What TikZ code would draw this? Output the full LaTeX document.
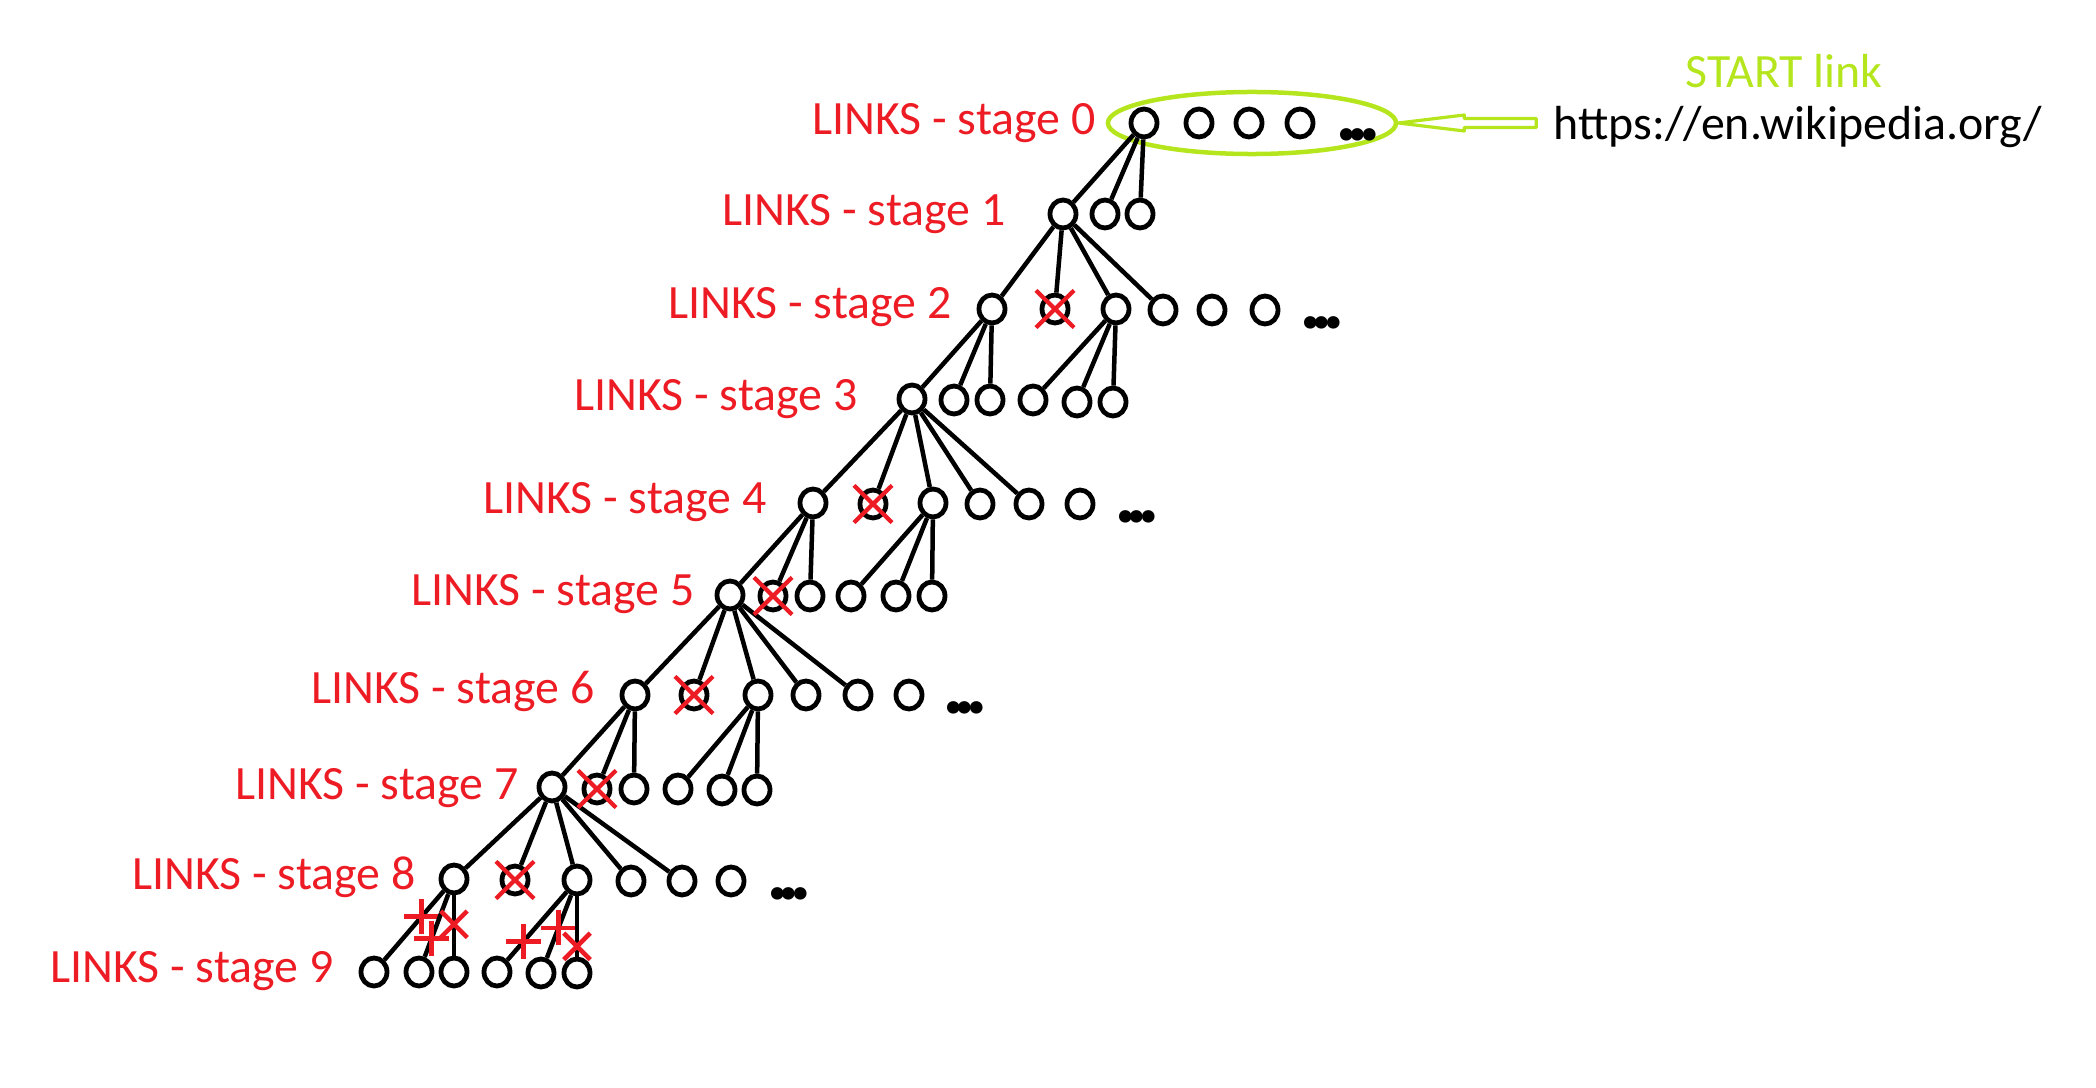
\documentclass[tikz,border=0pt]{standalone}
\usepackage{fontspec}
\setmainfont{Carlito}
\usetikzlibrary{shapes.geometric,shapes.misc}
\definecolor{linkred}{HTML}{ED1C24}
\definecolor{startgreen}{HTML}{B5E61D}

\begin{document}
\begin{tikzpicture}[x=0.01cm,y=-0.01cm,font=\fontsize{13.6}{16}\selectfont,
  pagenode/.style={draw,ellipse,line width=0.48mm,minimum width=2.6mm,minimum height=2.8mm,inner sep=0pt},
  deadx/.style={draw=linkred,cross out,line width=0.42mm,minimum width=3.4mm,minimum height=3.3mm,inner sep=0pt},
  plusx/.style={draw=linkred,cross out,rotate=45,line width=0.45mm,minimum size=2mm,inner sep=0pt},
  crossx/.style={draw=linkred,cross out,line width=0.45mm,minimum size=2.2mm,inner sep=0pt},
  stagelabel/.style={anchor=base east,text=linkred,inner sep=0pt},
  moredots/.style={anchor=base,inner sep=0pt,font=\fontsize{24}{24}\bfseries\selectfont},
  hop/.style={line width=0.45mm}]
\useasboundingbox (0,0) rectangle (2096,1088);

% start page
\node[anchor=base,text=startgreen,inner sep=0pt] (starttxt) at (1784,88) {START link};
\node[anchor=base west,inner sep=0pt] (url) at (1553,140) {https://en.wikipedia.org/};
\node[draw=startgreen,ellipse,line width=0.45mm,minimum width=2.88cm,minimum height=0.62cm] (startgrp) at (1252,123) {};
\draw[startgreen,line width=0.32mm,line join=round] (startgrp.east) -- ++(66,-8) -- ++(0,3.5) -- ++(72,0) -- ++(0,9) -- ++(-72,0) -- ++(0,3.5) -- cycle;

% stage labels
\node[stagelabel] (lbl0) at (1096,135) {LINKS - stage 0};
\node[stagelabel] (lbl1) at (1006,226) {LINKS - stage 1};
\node[stagelabel] (lbl2) at (952,318) {LINKS - stage 2};
\node[stagelabel] (lbl3) at (858,410) {LINKS - stage 3};
\node[stagelabel] (lbl4) at (767,513) {LINKS - stage 4};
\node[stagelabel] (lbl5) at (695,605) {LINKS - stage 5};
\node[stagelabel] (lbl6) at (595,703) {LINKS - stage 6};
\node[stagelabel] (lbl7) at (519,799) {LINKS - stage 7};
\node[stagelabel] (lbl8) at (416,889) {LINKS - stage 8};
\node[stagelabel] (lbl9) at (334,982) {LINKS - stage 9};

% stage 0
\node[pagenode] (s0a) at (1144,123) {};
\node[pagenode] (s0b) at (1199,123) {};
\node[pagenode] (s0c) at (1249,123) {};
\node[pagenode] (s0d) at (1300,123) {};
\node[moredots] (s0more) at (1358,141) {.\kern-3.1pt.\kern-3.1pt.};

% stage 1
\node[pagenode] (s1a) at (1063,214) {};
\node[pagenode] (s1b) at (1105,214) {};
\node[pagenode] (s1c) at (1140,214) {};

% stage 2
\node[pagenode] (s2a) at (992,309) {};
\node[pagenode] (s2b) at (1055,309) {};
\node[pagenode] (s2c) at (1116,309) {};
\node[pagenode] (s2d) at (1163,310) {};
\node[pagenode] (s2e) at (1212,310) {};
\node[pagenode] (s2f) at (1265,310) {};
\node[moredots] (s2more) at (1322,328) {.\kern-3.1pt.\kern-3.1pt.};

% stage 3
\node[pagenode] (s3a) at (912,399) {};
\node[pagenode] (s3b) at (954,400) {};
\node[pagenode] (s3c) at (990,400) {};
\node[pagenode] (s3d) at (1033,400) {};
\node[pagenode] (s3e) at (1077,402) {};
\node[pagenode] (s3f) at (1113,402) {};

% stage 4
\node[pagenode] (s4a) at (813,503) {};
\node[pagenode] (s4b) at (873,504) {};
\node[pagenode] (s4c) at (933,503) {};
\node[pagenode] (s4d) at (980,504) {};
\node[pagenode] (s4e) at (1029,504) {};
\node[pagenode] (s4f) at (1080,504) {};
\node[moredots] (s4more) at (1137,522) {.\kern-3.1pt.\kern-3.1pt.};

% stage 5
\node[pagenode] (s5a) at (730,595) {};
\node[pagenode] (s5b) at (773,596) {};
\node[pagenode] (s5c) at (810,596) {};
\node[pagenode] (s5d) at (851,596) {};
\node[pagenode] (s5e) at (896,596) {};
\node[pagenode] (s5f) at (932,596) {};

% stage 6
\node[pagenode] (s6a) at (635,695) {};
\node[pagenode] (s6b) at (694,695) {};
\node[pagenode] (s6c) at (758,695) {};
\node[pagenode] (s6d) at (806,695) {};
\node[pagenode] (s6e) at (858,695) {};
\node[pagenode] (s6f) at (909,695) {};
\node[moredots] (s6more) at (965,713) {.\kern-3.1pt.\kern-3.1pt.};

% stage 7
\node[pagenode] (s7a) at (552,787) {};
\node[pagenode] (s7b) at (597,789) {};
\node[pagenode] (s7c) at (634,789) {};
\node[pagenode] (s7d) at (678,789) {};
\node[pagenode] (s7e) at (722,790) {};
\node[pagenode] (s7f) at (757,790) {};

% stage 8
\node[pagenode] (s8a) at (454,879) {};
\node[pagenode] (s8b) at (515,880) {};
\node[pagenode] (s8c) at (577,880) {};
\node[pagenode] (s8d) at (631,881) {};
\node[pagenode] (s8e) at (682,881) {};
\node[pagenode] (s8f) at (731,881) {};
\node[moredots] (s8more) at (789,899) {.\kern-3.1pt.\kern-3.1pt.};

% stage 9
\node[pagenode] (s9a) at (374,972) {};
\node[pagenode] (s9b) at (419,972) {};
\node[pagenode] (s9c) at (454,972) {};
\node[pagenode] (s9d) at (497,972) {};
\node[pagenode] (s9e) at (541,973) {};
\node[pagenode] (s9f) at (577,973) {};

% links between stages
\draw[hop] (s0a) -- (s1a);
\draw[hop] (s0a) -- (s1b);
\draw[hop] (s0a) -- (s1c);
\draw[hop] (s1a) -- (s2a);
\draw[hop] (s1a) -- (s2b);
\draw[hop] (s1a) -- (s2c);
\draw[hop] (s1a) -- (s2d);
\draw[hop] (s2a) -- (s3a);
\draw[hop] (s2a) -- (s3b);
\draw[hop] (s2a) -- (s3c);
\draw[hop] (s2c) -- (s3d);
\draw[hop] (s2c) -- (s3e);
\draw[hop] (s2c) -- (s3f);
\draw[hop] (s3a) -- (s4a);
\draw[hop] (s3a) -- (s4b);
\draw[hop] (s3a) -- (s4c);
\draw[hop] (s3a) -- (s4d);
\draw[hop] (s3a) -- (s4e);
\draw[hop] (s4a) -- (s5a);
\draw[hop] (s4a) -- (s5b);
\draw[hop] (s4a) -- (s5c);
\draw[hop] (s4c) -- (s5d);
\draw[hop] (s4c) -- (s5e);
\draw[hop] (s4c) -- (s5f);
\draw[hop] (s5a) -- (s6a);
\draw[hop] (s5a) -- (s6b);
\draw[hop] (s5a) -- (s6c);
\draw[hop] (s5a) -- (s6d);
\draw[hop] (s5a) -- (s6e);
\draw[hop] (s6a) -- (s7a);
\draw[hop] (s6a) -- (s7b);
\draw[hop] (s6a) -- (s7c);
\draw[hop] (s6c) -- (s7d);
\draw[hop] (s6c) -- (s7e);
\draw[hop] (s6c) -- (s7f);
\draw[hop] (s7a) -- (s8a);
\draw[hop] (s7a) -- (s8b);
\draw[hop] (s7a) -- (s8c);
\draw[hop] (s7a) -- (s8d);
\draw[hop] (s7a) -- (s8e);
\draw[hop] (s8a) -- node[plusx,pos=0.37] {} (s9a);
\draw[hop] (s8a) -- node[plusx,pos=0.71] {} (s9b);
\draw[hop] (s8a) -- node[crossx,pos=0.48] {} (s9c);
\draw[hop] (s8c) -- node[plusx,pos=0.73] {} (s9d);
\draw[hop] (s8c) -- node[plusx,pos=0.52] {} (s9e);
\draw[hop] (s8c) -- node[crossx,pos=0.83] {} (s9f);

% dropped links
\node[deadx] at (s2b) {};
\node[deadx] at (s4b) {};
\node[deadx] at (s5b) {};
\node[deadx] at (s6b) {};
\node[deadx] at (s7b) {};
\node[deadx] at (s8b) {};
\end{tikzpicture}
\end{document}
